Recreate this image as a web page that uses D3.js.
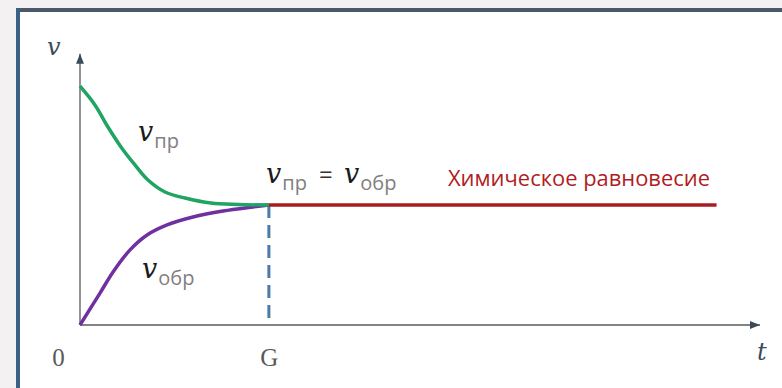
<!DOCTYPE html>
<html>
<head>
<meta charset="utf-8">
<script src="https://cdn.jsdelivr.net/npm/d3@7"></script>
<style>
  body { margin: 0; background: #f3f1f1; }
  svg { display: block; }
</style>
</head>
<body>
<svg id="chart" width="782" height="388"></svg>
<script>
// rate of the forward reaction (green)
const forward_t = [0, 0.79, 1.48, 2.17, 2.91, 3.6, 4.5, 5.56, 6.93, 8.36, 10];
const forward_v = [9.95, 9.17, 8.25, 7.42, 6.67, 6.04, 5.54, 5.29, 5.08, 5.02, 5];

// rate of the reverse reaction (purple)
const reverse_t = [0, 1.06, 1.75, 2.65, 3.55, 4.61, 5.98, 7.57, 9.16, 10];
const reverse_v = [0, 1.33, 2.21, 3.13, 3.75, 4.17, 4.5, 4.75, 4.92, 5];

// equilibrium line
const equilibrium_t = [10, 33.7];
const equilibrium_v = 5;

// x axis marks
const t_ticks = [0, 10];
const t_tick_labels = ['0', 'G'];
const t_max = 36, v_max = 11.3;

const svg = d3.select('#chart');

// frame of the slide
svg.append('rect').attr('x', 20).attr('y', 12).attr('width', 762).attr('height', 376).attr('fill', '#ffffff');
svg.append('rect').attr('x', 16).attr('y', 8).attr('width', 766).attr('height', 4).attr('fill', '#4b596b');
svg.append('rect').attr('x', 16).attr('y', 8).attr('width', 4).attr('height', 380).attr('fill', '#3a6088');

const x = d3.scaleLinear().domain([0, t_max]).range([80, 760]);
const y = d3.scaleLinear().domain([0, v_max]).range([325, 53.8]);

// arrow heads for the axes
svg.append('defs').append('marker')
    .attr('id', 'arrow')
    .attr('viewBox', '0 0 10 8')
    .attr('refX', 10).attr('refY', 4)
    .attr('markerWidth', 10).attr('markerHeight', 8)
    .attr('markerUnits', 'userSpaceOnUse')
    .attr('orient', 'auto')
    .append('path')
    .attr('d', 'M0,0L10,4L0,8z')
    .attr('fill', '#3b4a5c');

const line = d3.line().x(d => x(d[0])).y(d => y(d[1]));

svg.append('path')
    .attr('d', line([[0, 0], [t_max, 0]]))
    .attr('stroke', '#5a5a5a').attr('stroke-width', 1.3).attr('fill', 'none')
    .attr('marker-end', 'url(#arrow)');
svg.append('path')
    .attr('d', line([[0, 0], [0, v_max]]))
    .attr('stroke', '#5a5a5a').attr('stroke-width', 1.3).attr('fill', 'none')
    .attr('marker-end', 'url(#arrow)');

// tick labels, no tick lines
const x_axis = svg.append('g')
    .attr('transform', `translate(0,${y(0)})`)
    .call(d3.axisBottom(x)
        .tickValues(t_ticks)
        .tickFormat((d, i) => t_tick_labels[i])
        .tickSize(0)
        .tickPadding(23));
x_axis.select('.domain').remove();
x_axis.selectAll('text')
    .attr('font-family', '"Liberation Serif", serif')
    .attr('font-size', 25)
    .attr('fill', '#595959')
    .attr('dx', d => d === 0 ? -22 : 0);

// dashed drop line at G
svg.append('path')
    .attr('d', line([[t_ticks[1], equilibrium_v], [t_ticks[1], 0]]))
    .attr('stroke', '#4a7aa8').attr('stroke-width', 3)
    .attr('stroke-dasharray', '13,7').attr('fill', 'none');

const curve = d3.line().x(d => x(d[0])).y(d => y(d[1])).curve(d3.curveCatmullRom.alpha(0.5));

svg.append('path')
    .attr('d', curve(d3.zip(reverse_t, reverse_v)))
    .attr('stroke', '#7030a0').attr('stroke-width', 3.5).attr('fill', 'none');

svg.append('path')
    .attr('d', curve(d3.zip(forward_t, forward_v)))
    .attr('stroke', '#1fa463').attr('stroke-width', 3.5).attr('fill', 'none');

svg.append('path')
    .attr('d', line(equilibrium_t.map(t => [t, equilibrium_v])))
    .attr('stroke', '#a81c20').attr('stroke-width', 3.5).attr('fill', 'none');

// italic v with a grey subscript
function rate_label(px, py, sub) {
    const t = svg.append('text').attr('x', px).attr('y', py);
    t.append('tspan')
        .attr('font-family', '"DejaVu Serif", serif')
        .attr('font-style', 'italic')
        .attr('font-size', 27)
        .attr('fill', '#1a1a1a')
        .text('v');
    t.append('tspan')
        .attr('font-family', '"Open Sans", sans-serif')
        .attr('font-size', 20)
        .attr('fill', '#808080')
        .attr('dx', 1).attr('dy', 7)
        .text(sub);
    return t;
}

rate_label(138, 141, 'пр');
rate_label(142, 278, 'обр');
rate_label(266, 183, 'пр');
svg.append('text')
    .attr('x', 319).attr('y', 183)
    .attr('font-family', '"Open Sans", sans-serif')
    .attr('font-size', 24)
    .attr('fill', '#333333')
    .text('=');
rate_label(344, 183, 'обр');

svg.append('text')
    .attr('x', x(19.48)).attr('y', 186)
    .attr('font-family', '"Open Sans", sans-serif')
    .attr('font-size', 21)
    .attr('fill', '#b01c22')
    .attr('textLength', 262)
    .attr('lengthAdjust', 'spacingAndGlyphs')
    .text('Химическое равновесие');

// axis names
svg.append('text')
    .attr('x', 47).attr('y', 55)
    .attr('font-family', '"DejaVu Serif", serif')
    .attr('font-style', 'italic')
    .attr('font-size', 24)
    .attr('fill', '#3b4a5c')
    .text('v');
svg.append('text')
    .attr('x', 757).attr('y', 360)
    .attr('font-family', '"DejaVu Serif", serif')
    .attr('font-style', 'italic')
    .attr('font-size', 24)
    .attr('fill', '#3b4a5c')
    .text('t');
</script>
</body>
</html>
